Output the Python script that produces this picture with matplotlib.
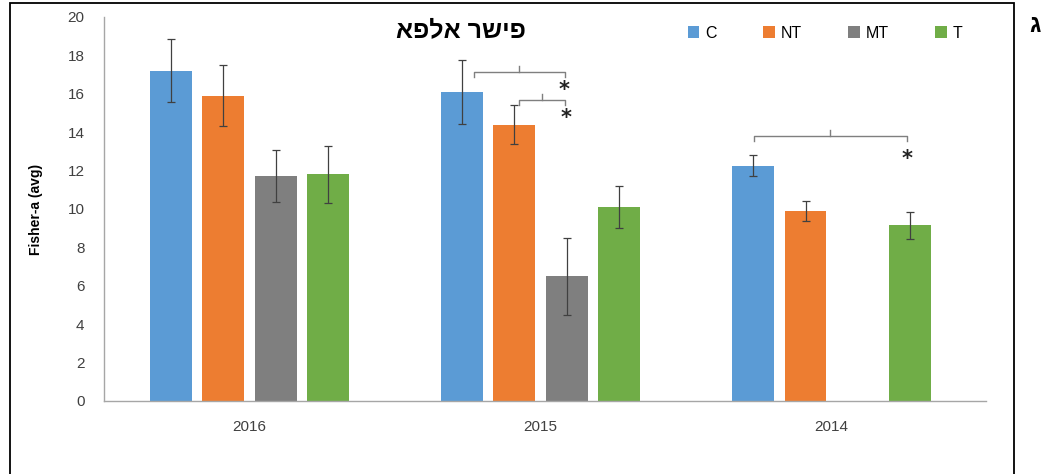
import numpy as np
import matplotlib
matplotlib.use('Agg')
import matplotlib.pyplot as plt
from matplotlib.patches import Rectangle

plt.rcParams['font.family'] = ['Liberation Sans', 'DejaVu Sans']

# ── data ──
years = ['2016', '2015', '2014']
groups = ['C', 'NT', 'MT', 'T']
colors = ['#5B9BD5', '#ED7D31', '#7F7F7F', '#70AD47']

c_avg = [17.2, 16.1, 12.25]
nt_avg = [15.9, 14.4, 9.9]
mt_avg = [11.7, 6.5, 0.0]
t_avg = [11.8, 10.1, 9.15]

c_err = [1.65, 1.65, 0.55]
nt_err = [1.6, 1.0, 0.5]
mt_err = [1.35, 2.0, np.nan]
t_err = [1.5, 1.1, 0.7]

# significance brackets: (x_left, x_right, y, tick_x)
brackets = [(0.77, 1.082, 17.14, 0.924),
            (0.924, 1.082, 15.68, 1.003),
            (1.732, 2.258, 13.8, 1.993)]
stars = [(1.079, 16.2), (1.089, 14.75), (2.258, 12.6)]

title_he = 'פישר אלפא'

# ── figure ──
fig = plt.figure(figsize=(10.54, 4.74), dpi=100)
ax = fig.add_axes([104 / 1054, 73 / 474, 882 / 1054, 384 / 474])

x = np.arange(len(years))
width = 0.144
pitch = 0.18
series = [c_avg, nt_avg, mt_avg, t_avg]
errs = [c_err, nt_err, mt_err, t_err]
for i, (vals, err, col, name) in enumerate(zip(series, errs, colors, groups)):
    pos = x + (i - 1.5) * pitch
    ax.bar(pos, vals, width, color=col, label=name, zorder=2)
    ax.errorbar(pos, vals, yerr=err, fmt='none', ecolor='#404040',
                elinewidth=0.9, capsize=3, capthick=0.9, zorder=3)

# brackets with stars
for xl, xr, y, xt in brackets:
    d = 0.28
    ax.plot([xl, xl, xr, xr], [y - d, y, y, y - d], color='#7f7f7f', lw=1.0, zorder=4)
    ax.plot([xt, xt], [y, y + 0.3], color='#7f7f7f', lw=1.0, zorder=4)
for sx, sy in stars:
    ax.text(sx, sy, '*', ha='center', va='center', fontsize=15, fontweight='bold',
            color='#222222', family='DejaVu Sans')

ax.set_xlim(-0.5, 2.53)
ax.set_ylim(0, 20)
ax.set_yticks(np.arange(0, 21, 2))
ax.set_xticks(x)
ax.set_xticklabels(years)
ax.tick_params(axis='both', length=0, labelsize=11, colors='#404040')
ax.tick_params(axis='x', pad=14)
ax.tick_params(axis='y', pad=14)
for s in ['top', 'right']:
    ax.spines[s].set_visible(False)
for s in ['left', 'bottom']:
    ax.spines[s].set_color('#a6a6a6')
    ax.spines[s].set_linewidth(1.0)

ax.set_ylabel('Fisher-a (avg)', fontsize=10, fontweight='bold', labelpad=18)

ax.text(0.405, 0.965, title_he[::-1], transform=ax.transAxes, ha='center',
        va='center', fontsize=18, fontweight='bold')

ax.legend(loc='upper right', bbox_to_anchor=(0.99, 1.015), ncol=4, frameon=False,
          handlelength=0.7, handleheight=0.7, handletextpad=0.4,
          columnspacing=2.9, fontsize=11.5)

# outer frame and panel letter
fig.patches.append(Rectangle((10 / 1054, -0.05), 1004 / 1054, 1.05 - 3 / 474,
                             transform=fig.transFigure, fill=False,
                             edgecolor='black', lw=1.3))
fig.text(1035 / 1054, 1 - 26 / 474, 'ג', ha='center', va='center',
         fontsize=17, fontweight='bold')

plt.savefig('out.png', dpi=100)
plt.close()
